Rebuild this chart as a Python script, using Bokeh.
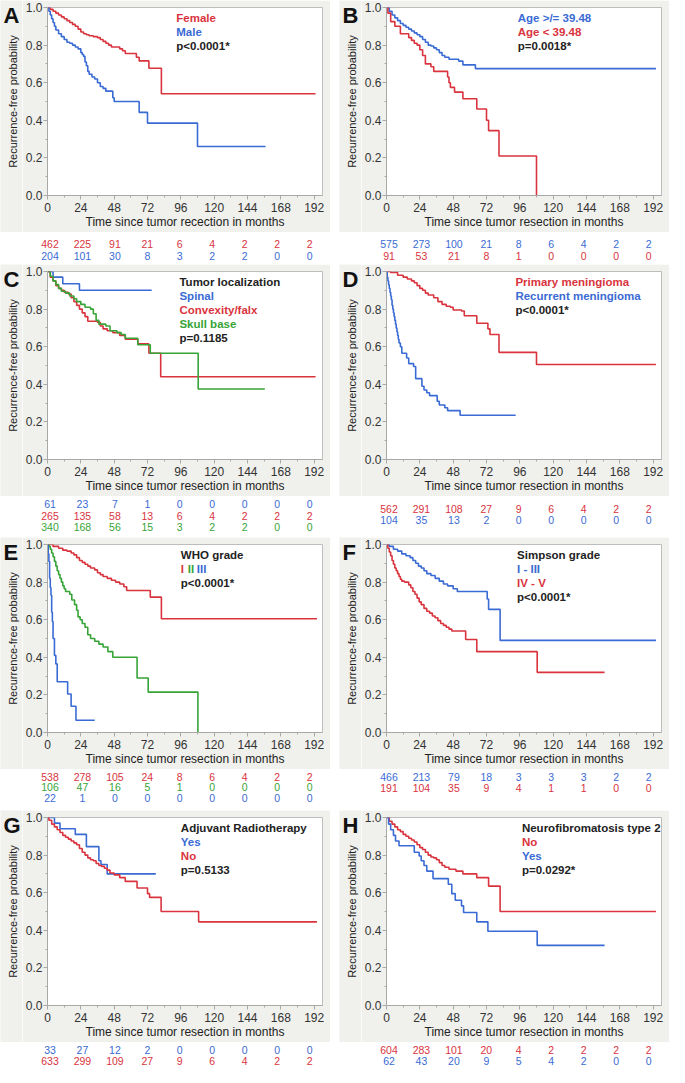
import math
from bokeh.plotting import figure
from bokeh.models import Range1d, FixedTicker, Label, Spacer, NumeralTickFormatter
from bokeh.layouts import row, column
from bokeh.embed import file_html
from bokeh.resources import INLINE
from bokeh.core.properties import value

# ---------------- data ----------------
TIME_TICKS = [0, 24, 48, 72, 96, 120, 144, 168, 192]

A_female_t = [0,2,4,6,8,10,12,14,16,18,20,22,24,26,28,30,33,36,38,40,42,44,46,52,54,56,64,66,73,82]
A_female_s = [1.0,0.99,0.98,0.97,0.96,0.95,0.94,0.93,0.92,0.91,0.90,0.885,0.87,0.86,0.855,0.85,0.845,0.84,0.83,0.82,0.81,0.80,0.79,0.78,0.77,0.755,0.735,0.716,0.677,0.541]
A_female_end = 193
A_male_t = [0,1,2,3,4,5,6,8,10,12,14,16,18,20,22,24,25,26,27,28,29,30,32,34,36,38,40,42,47,48,66,72,108]
A_male_s = [1.0,0.98,0.96,0.94,0.92,0.90,0.88,0.86,0.845,0.83,0.815,0.81,0.80,0.79,0.78,0.76,0.75,0.74,0.71,0.69,0.66,0.645,0.63,0.62,0.60,0.58,0.57,0.555,0.52,0.50,0.442,0.385,0.261]
A_male_end = 157
A_risk_female = [462, 225, 91, 21, 6, 4, 2, 2, 2]
A_risk_male = [204, 101, 30, 8, 3, 2, 2, 0, 0]

B_old_t = [0,2,4,6,8,10,12,14,16,18,20,22,24,26,28,30,32,34,36,38,40,42,45,52,55,64]
B_old_s = [1.0,0.98,0.96,0.945,0.93,0.915,0.905,0.895,0.885,0.875,0.865,0.855,0.845,0.83,0.815,0.80,0.795,0.785,0.775,0.76,0.745,0.735,0.725,0.715,0.695,0.675]
B_old_end = 194
B_young_t = [0,1,3,6,10,16,18,20,22,24,26,28,32,34,44,45,46,49,55,65,72,73.5,81,108]
B_young_s = [1.0,0.97,0.925,0.90,0.86,0.84,0.825,0.81,0.80,0.775,0.745,0.70,0.685,0.66,0.63,0.60,0.575,0.55,0.515,0.46,0.40,0.345,0.21,0.0]
B_young_end = None
B_risk_old = [575, 273, 100, 21, 8, 6, 4, 2, 2]
B_risk_young = [91, 53, 21, 8, 1, 0, 0, 0, 0]

C_spinal_t = [0,4,11,23]
C_spinal_s = [1.0,0.97,0.935,0.90]
C_spinal_end = 75
C_conv_t = [0,2,4,6,8,10,12,15,17,19,21,23,25,27,29,36,38,40,43,47,52,56,65,73,81.5]
C_conv_s = [1.0,0.97,0.95,0.925,0.91,0.90,0.89,0.88,0.86,0.84,0.82,0.80,0.78,0.76,0.735,0.73,0.71,0.695,0.685,0.675,0.66,0.64,0.615,0.565,0.44]
C_conv_end = 193
C_skull_t = [0,2,4,6,8,10,13,16,19,21,24,27,31,33,35,37,42,45,50,53,56,65,74,108.5]
C_skull_s = [1.0,0.975,0.95,0.93,0.91,0.895,0.885,0.87,0.855,0.84,0.825,0.81,0.80,0.775,0.74,0.72,0.71,0.685,0.675,0.665,0.645,0.61,0.565,0.375]
C_skull_end = 156.5
C_risk_spinal = [61, 23, 7, 1, 0, 0, 0, 0, 0]
C_risk_conv = [265, 135, 58, 13, 6, 4, 2, 2, 2]
C_risk_skull = [340, 168, 56, 15, 3, 2, 2, 0, 0]

D_prim_t = [0,3,8,12,15,18,20,22,24,26,28,30,34,37,40,43,46,48,54,56,65,73,74.5,81,108]
D_prim_s = [1.0,0.995,0.98,0.97,0.96,0.95,0.94,0.925,0.91,0.90,0.885,0.875,0.86,0.84,0.825,0.815,0.81,0.795,0.79,0.765,0.725,0.695,0.665,0.57,0.505]
D_prim_end = 194
D_rec_t = [0,0.5,1,1.5,2,2.5,3,3.5,4,4.5,5,5.5,6,6.5,7,7.5,8,8.5,9,10,11,14.5,16,19.5,21,25.5,27,29,31,36.5,38,42,44,53]
D_rec_s = [1.0,0.97,0.95,0.93,0.91,0.89,0.87,0.85,0.82,0.80,0.78,0.76,0.74,0.72,0.70,0.68,0.66,0.64,0.62,0.60,0.565,0.54,0.51,0.495,0.43,0.39,0.37,0.355,0.34,0.31,0.29,0.275,0.26,0.235]
D_rec_end = 93
D_risk_prim = [562, 291, 108, 27, 9, 6, 4, 2, 2]
D_risk_rec = [104, 35, 13, 2, 0, 0, 0, 0, 0]

E_g1_t = [0,4,8,11,14,17,19,21,23,25,27,29,31,34,36,38,40,43,46,49,52,55,57,74,82]
E_g1_s = [1.0,0.99,0.98,0.97,0.965,0.955,0.945,0.93,0.915,0.905,0.895,0.885,0.875,0.865,0.85,0.84,0.83,0.82,0.81,0.80,0.79,0.775,0.755,0.72,0.605]
E_g1_end = 194
E_g2_t = [0,1,2,3,4,5,6,7,8,9,10,11,12,13,16,17.5,19.5,21,22,23.5,25,27,29,31,34,37,40,43.5,47,64.5,72.5,108.3]
E_g2_s = [1.0,0.99,0.975,0.955,0.935,0.91,0.885,0.86,0.84,0.82,0.80,0.78,0.765,0.75,0.735,0.705,0.68,0.65,0.615,0.60,0.58,0.56,0.52,0.50,0.485,0.47,0.455,0.43,0.40,0.29,0.215,0.0]
E_g2_end = None
E_g3_t = [0,0.5,1,1.5,2,2.5,3,3.5,4,5,6,7,14.5,17,20.5]
E_g3_s = [1.0,0.95,0.91,0.82,0.77,0.73,0.64,0.59,0.50,0.41,0.365,0.27,0.205,0.14,0.065]
E_g3_end = 34
E_risk_g1 = [538, 278, 105, 24, 8, 6, 4, 2, 2]
E_risk_g2 = [106, 47, 16, 5, 1, 0, 0, 0, 0]
E_risk_g3 = [22, 1, 0, 0, 0, 0, 0, 0, 0]

F_low_t = [0,2,5,8,11,14,17,19,21,23,25,27,29,32,35,38,41,44,48,51,72.5,73.5,81.8]
F_low_s = [1.0,0.99,0.975,0.965,0.95,0.94,0.93,0.915,0.90,0.885,0.875,0.86,0.845,0.835,0.82,0.805,0.79,0.78,0.765,0.75,0.71,0.655,0.49]
F_low_end = 194
F_high_t = [0,1,2,3,4,5,6,7,8,9,10,11,13,16,17.5,19,20.5,22,23.5,25,27,29,31,33,35,37,39,41,43,45,47,57,65,108.5]
F_high_s = [1.0,0.98,0.96,0.94,0.915,0.895,0.875,0.86,0.845,0.83,0.815,0.805,0.80,0.785,0.77,0.75,0.735,0.715,0.695,0.68,0.66,0.645,0.635,0.62,0.61,0.595,0.58,0.57,0.56,0.55,0.54,0.495,0.43,0.32]
F_high_end = 157
F_risk_low = [466, 213, 79, 18, 3, 3, 3, 2, 2]
F_risk_high = [191, 104, 35, 9, 4, 1, 1, 0, 0]

G_yes_t = [0,5,9,20,28,37,38.5,43]
G_yes_s = [1.0,0.97,0.94,0.91,0.845,0.77,0.75,0.70]
G_yes_end = 78
G_no_t = [0,1,3,5,7,9,11,13,15,17,19,21,23,25,27,29,31,33,35,37,39,41,43,45,48,52,56,64.5,72,73.5,81.8,108.8]
G_no_s = [1.0,0.985,0.965,0.95,0.935,0.92,0.905,0.895,0.885,0.875,0.865,0.855,0.835,0.815,0.80,0.785,0.775,0.77,0.755,0.745,0.74,0.73,0.72,0.705,0.695,0.68,0.66,0.625,0.595,0.575,0.50,0.445]
G_no_end = 194
G_risk_yes = [33, 27, 12, 2, 0, 0, 0, 0, 0]
G_risk_no = [633, 299, 109, 27, 9, 6, 4, 2, 2]

H_no_t = [0,2,4,6,8,10,12,14,16,18,20,22,24,26,28,30,32,34,36,38,40,42,45,50,55,65,73.5,81.8]
H_no_s = [1.0,0.98,0.965,0.95,0.935,0.925,0.91,0.90,0.89,0.88,0.87,0.855,0.84,0.83,0.815,0.80,0.79,0.785,0.775,0.76,0.745,0.735,0.725,0.715,0.70,0.68,0.635,0.50]
H_no_end = 194
H_yes_t = [0,1.5,3,5,6.5,9,20,23.5,25,27,29,33.5,44.5,47,49.5,54,55.5,65,73,108.5]
H_yes_s = [1.0,0.965,0.935,0.905,0.875,0.85,0.815,0.795,0.77,0.745,0.715,0.675,0.645,0.595,0.56,0.53,0.495,0.445,0.395,0.32]
H_yes_end = 157
H_risk_no = [604, 283, 101, 20, 4, 2, 2, 2, 2]
H_risk_yes = [62, 43, 20, 9, 5, 4, 2, 0, 0]

# ---------------- style ----------------
RED = "#d9343e"
BLUE = "#3a6bd4"
GREEN = "#37a438"
DARK = "#222222"
BG = "#f0f0ec"
FONT = "Liberation Sans"

PANEL_W = 330          # full grey panel width
STRIP_W = 22           # left strip holding letter + y label
FIG_W = PANEL_W - STRIP_W
B_LEFT, B_RIGHT, B_TOP, B_BOTTOM = 24, 8, 7, 37
FIG_H = 232
FRAME_W = FIG_W - B_LEFT - B_RIGHT
FRAME_H = FIG_H - B_TOP - B_BOTTOM
X_MAX = 198.0
PXM = FRAME_W / X_MAX
LEFT_TOTAL = STRIP_W + B_LEFT


def panel(letter, curves, legend, xlabel, risks, tab_h, tab_rows, legend_x):
    # left strip: panel letter and y-axis title
    strip = figure(width=STRIP_W, height=FIG_H, x_range=Range1d(0, STRIP_W),
                   y_range=Range1d(FIG_H, 0), output_backend="svg", toolbar_location=None,
                   x_axis_type=None, y_axis_type=None, min_border=0,
                   min_border_left=0, min_border_right=0, min_border_top=0, min_border_bottom=0,
                   frame_align=False, outline_line_color=None,
                   background_fill_color=BG, border_fill_color=BG)
    strip.grid.visible = False
    strip.text(x=[3], y=[15], text=[letter], text_font=value(FONT),
               text_font_size=value("22px"), text_font_style="bold", text_color="#111111",
               text_align="left", text_baseline="middle")
    strip.text(x=[12], y=[B_TOP + FRAME_H / 2], text=["Recurrence-free probability"],
               angle=math.pi / 2, text_font=value(FONT), text_font_size=value("11px"),
               text_color="#222222", text_align="center", text_baseline="middle")

    p = figure(width=FIG_W, height=FIG_H, x_range=Range1d(0, X_MAX), y_range=Range1d(0, 1),
               output_backend="svg", toolbar_location=None,
               min_border_left=B_LEFT, min_border_right=B_RIGHT,
               min_border_top=B_TOP, min_border_bottom=B_BOTTOM,
               background_fill_color="white", border_fill_color=BG,
               outline_line_color="#bdbdbd", outline_line_width=1)
    p.grid.visible = False
    p.xaxis.ticker = FixedTicker(ticks=TIME_TICKS, minor_ticks=[t + 12 for t in TIME_TICKS])
    p.yaxis.ticker = FixedTicker(ticks=[0, 0.2, 0.4, 0.6, 0.8, 1.0],
                                 minor_ticks=[0.1, 0.3, 0.5, 0.7, 0.9])
    p.yaxis.formatter = NumeralTickFormatter(format="0.0")
    p.xaxis.axis_label = xlabel
    for ax in (p.xaxis, p.yaxis):
        ax.axis_line_color = "#a8a8a8"
        ax.major_tick_line_color = "#a8a8a8"
        ax.minor_tick_line_color = "#a8a8a8"
        ax.major_tick_out = 4
        ax.major_tick_in = 0
        ax.minor_tick_out = 2
        ax.minor_tick_in = 0
        ax.major_label_text_font = FONT
        ax.major_label_text_font_size = "12px"
        ax.major_label_text_color = "#333333"
        ax.axis_label_text_font = FONT
        ax.axis_label_text_font_style = "normal"
        ax.axis_label_text_color = "#222222"
    p.xaxis.major_label_standoff = 3
    p.xaxis.axis_label_standoff = 0
    p.xaxis.axis_label_text_font_size = "12px"
    p.yaxis.major_label_standoff = 1

    for t, s, end, color in curves:
        xs = list(t)
        ys = list(s)
        if end is not None:
            xs.append(end)
            ys.append(s[-1])
        p.step(xs, ys, mode="after", line_color=color, line_width=1.6)

    for i, segs in enumerate(legend):
        for txt, color, xoff in segs:
            p.add_layout(Label(x=legend_x, y=1 - (10 + 14 * i) / FRAME_H, x_offset=xoff,
                               text=txt, text_font=FONT, text_font_size="11.5px",
                               text_font_style="bold", text_color=color,
                               text_baseline="middle", text_align="left"))

    # risk table (frame covers the whole small figure)
    tab = figure(width=PANEL_W, height=tab_h,
                 x_range=Range1d(-LEFT_TOTAL / PXM, (PANEL_W - LEFT_TOTAL) / PXM),
                 y_range=Range1d(tab_h, 0), output_backend="svg", toolbar_location=None,
                 x_axis_type=None, y_axis_type=None, min_border=0,
                 min_border_left=0, min_border_right=0, min_border_top=0, min_border_bottom=0,
                 frame_align=False, outline_line_color=None,
                 background_fill_color="white", border_fill_color="white")
    tab.grid.visible = False
    xs_tab = [2.5 + 0.97 * t for t in TIME_TICKS]
    for (vals, color), ry in zip(risks, tab_rows):
        tab.text(x=xs_tab, y=[ry] * len(vals), text=[str(v) for v in vals],
                 text_color=color, text_font=value(FONT), text_font_size=value("10.5px"),
                 text_align="center", text_baseline="middle")
    return column(row(strip, p, spacing=0), tab, spacing=0)


XL = "Time since tumor resection in months"

pA = panel("A", [(A_female_t, A_female_s, A_female_end, RED), (A_male_t, A_male_s, A_male_end, BLUE)],
           [[("Female", RED, 0)], [("Male", BLUE, 0)], [("p<0.0001*", DARK, 0)]],
           "Time since tumor recection in months",
           [(A_risk_female, RED), (A_risk_male, BLUE)], 32, [11.5, 23], 92.7)
pB = panel("B", [(B_old_t, B_old_s, B_old_end, BLUE), (B_young_t, B_young_s, B_young_end, RED)],
           [[("Age >/= 39.48", BLUE, 0)], [("Age < 39.48", RED, 0)], [("p=0.0018*", DARK, 0)]],
           XL, [(B_risk_old, BLUE), (B_risk_young, RED)], 32, [11.5, 23], 94.5)
pC = panel("C", [(C_spinal_t, C_spinal_s, C_spinal_end, BLUE), (C_conv_t, C_conv_s, C_conv_end, RED),
                 (C_skull_t, C_skull_s, C_skull_end, GREEN)],
           [[("Tumor localization", DARK, 0)], [("Spinal", BLUE, 0)], [("Convexity/falx", RED, 0)],
            [("Skull base", GREEN, 0)], [("p=0.1185", DARK, 0)]],
           XL, [(C_risk_spinal, BLUE), (C_risk_conv, RED), (C_risk_skull, GREEN)], 41, [7.5, 19, 30.5], 95)
pD = panel("D", [(D_prim_t, D_prim_s, D_prim_end, RED), (D_rec_t, D_rec_s, D_rec_end, BLUE)],
           [[("Primary meningioma", RED, 0)], [("Recurrent meningioma", BLUE, 0)], [("p<0.0001*", DARK, 0)]],
           XL, [(D_risk_prim, RED), (D_risk_rec, BLUE)], 41, [12.5, 23.5], 92.8)
pE = panel("E", [(E_g1_t, E_g1_s, E_g1_end, RED), (E_g2_t, E_g2_s, E_g2_end, GREEN),
                 (E_g3_t, E_g3_s, E_g3_end, BLUE)],
           [[("WHO grade", DARK, 0)], [("I", RED, 0), ("II", GREEN, 7), ("III", BLUE, 16)],
            [("p<0.0001*", DARK, 0)]],
           XL, [(E_risk_g1, RED), (E_risk_g2, GREEN), (E_risk_g3, BLUE)], 41, [7, 17.5, 28], 96)
pF = panel("F", [(F_low_t, F_low_s, F_low_end, BLUE), (F_high_t, F_high_s, F_high_end, RED)],
           [[("Simpson grade", DARK, 0)], [("I - III", BLUE, 0)], [("IV - V", RED, 0)],
            [("p<0.0001*", DARK, 0)]],
           XL, [(F_risk_low, BLUE), (F_risk_high, RED)], 41, [7.5, 18], 94)
pG = panel("G", [(G_yes_t, G_yes_s, G_yes_end, BLUE), (G_no_t, G_no_s, G_no_end, RED)],
           [[("Adjuvant Radiotherapy", DARK, 0)], [("Yes", BLUE, 0)], [("No", RED, 0)],
            [("p=0.5133", DARK, 0)]],
           XL, [(G_risk_yes, BLUE), (G_risk_no, RED)], 25, [7.5, 18], 96)
pH = panel("H", [(H_no_t, H_no_s, H_no_end, RED), (H_yes_t, H_yes_s, H_yes_end, BLUE)],
           [[("Neurofibromatosis type 2", DARK, 0)], [("No", RED, 0)], [("Yes", BLUE, 0)],
            [("p=0.0292*", DARK, 0)]],
           XL, [(H_risk_no, RED), (H_risk_yes, BLUE)], 25, [7.5, 18], 97.5)

rows = []
for left, right in [(pA, pB), (pC, pD), (pE, pF), (pG, pH)]:
    rows.append(row(left, Spacer(width=9), right, spacing=0))
layout = column(*rows, spacing=0)

open("out.html", "w").write(file_html(layout, INLINE))
